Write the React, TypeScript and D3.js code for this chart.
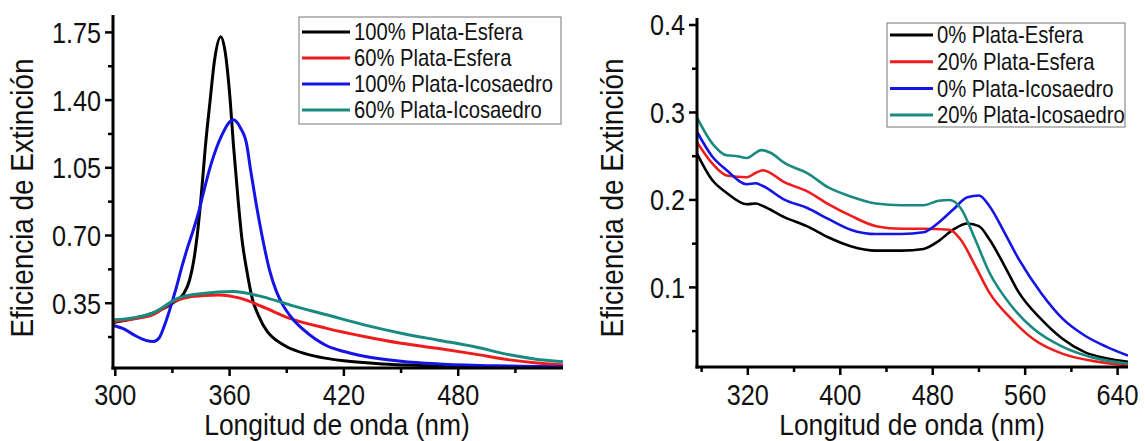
import React from 'react';
import * as d3 from 'd3';

// ---------- Left panel data ----------
const leftXTicks = [300, 360, 420, 480];
const leftXMinor = [330, 390, 450, 510];
const leftYTicks = [0.35, 0.7, 1.05, 1.4, 1.75];
const leftYMinor = [0.175, 0.525, 0.875, 1.225, 1.575];

const esfera100: [number, number][] = [
  [299, 0.25], [310, 0.272], [320, 0.3], [330, 0.35], [336, 0.4], [339, 0.47], [341, 0.56],
  [343, 0.7], [345.5, 0.95], [347.2, 1.15], [349.8, 1.4], [352, 1.6], [355.4, 1.728],
  [357.5, 1.66], [360.3, 1.4], [362, 1.17], [364.5, 0.88], [366.5, 0.68], [369, 0.52],
  [372, 0.37], [375, 0.29], [380, 0.2], [385, 0.155], [390, 0.125], [400, 0.088],
  [410, 0.066], [420, 0.052], [440, 0.036], [460, 0.028], [490, 0.022], [535, 0.019],
];
const esfera60: [number, number][] = [
  [299, 0.255], [310, 0.27], [319.5, 0.29], [331, 0.36], [340, 0.385], [354, 0.393],
  [365.5, 0.376], [377, 0.333], [392, 0.27], [411, 0.22], [430.6, 0.178], [450, 0.143],
  [469, 0.117], [488, 0.088], [507, 0.057], [520, 0.042], [535, 0.031],
];
const icosa100: [number, number][] = [
  [299, 0.235], [305, 0.215], [310, 0.185], [316, 0.158], [320, 0.152], [323, 0.17],
  [326, 0.24], [329, 0.33], [332, 0.43], [335, 0.54], [338, 0.64], [341, 0.73],
  [344, 0.83], [347, 0.95], [350, 1.06], [353, 1.15], [356, 1.22], [359, 1.275],
  [362, 1.298], [365.5, 1.26], [369, 1.17], [371, 1.04], [374, 0.86], [377, 0.7],
  [381, 0.52], [384.6, 0.41], [388, 0.34], [393, 0.27], [398, 0.22], [405, 0.165],
  [411, 0.13], [420, 0.1], [430.6, 0.076], [450, 0.05], [470, 0.036], [500, 0.026],
  [535, 0.02],
];
const icosa60: [number, number][] = [
  [299, 0.264], [310, 0.275], [319.5, 0.298], [333, 0.376], [346, 0.4], [361.7, 0.41],
  [377, 0.384], [392, 0.34], [411, 0.29], [430.6, 0.238], [450, 0.195], [469, 0.16],
  [488, 0.126], [507, 0.083], [520, 0.062], [535, 0.047],
];

// ---------- Right panel data ----------
const rightXTicks = [320, 400, 480, 560, 640];
const rightXMinor = [280, 360, 440, 520, 600];
const rightYTicks = [0.1, 0.2, 0.3, 0.4];
const rightYMinor = [0.05, 0.15, 0.25, 0.35];

const esfera0: [number, number][] = [
  [276, 0.253], [289, 0.223], [301.7, 0.208], [319, 0.195], [327, 0.196], [333, 0.193],
  [352, 0.18], [371, 0.17], [390, 0.157], [409, 0.147], [431, 0.142], [453, 0.142],
  [472, 0.144], [485, 0.153], [497.7, 0.166], [510, 0.173], [520, 0.17], [529, 0.155],
  [542, 0.125], [554.6, 0.094], [573.6, 0.064], [592.6, 0.041], [611.5, 0.026],
  [630, 0.019], [649, 0.015],
];
const esfera20: [number, number][] = [
  [276, 0.266], [289, 0.242], [301.7, 0.228], [319, 0.226], [327, 0.231], [333, 0.234],
  [352, 0.22], [371, 0.21], [390, 0.195], [409, 0.182], [431, 0.17], [453, 0.167],
  [472, 0.167], [494.5, 0.166], [504, 0.155], [516.7, 0.125], [529, 0.094], [548, 0.064],
  [567, 0.041], [592.6, 0.024], [618, 0.016], [649, 0.011],
];
const icosa0: [number, number][] = [
  [276, 0.278], [289, 0.25], [301.7, 0.234], [319, 0.218], [327, 0.219], [333, 0.216],
  [352, 0.2], [371, 0.191], [390, 0.178], [409, 0.166], [431, 0.161], [453, 0.161],
  [472, 0.163], [485, 0.174], [497.7, 0.189], [510, 0.203], [520, 0.205], [529, 0.193],
  [542, 0.163], [554.6, 0.132], [573.6, 0.094], [592.6, 0.064], [611.5, 0.045],
  [630.5, 0.032], [649, 0.022],
];
const icosa20: [number, number][] = [
  [276, 0.294], [289, 0.265], [301.7, 0.251], [311, 0.25], [319, 0.248], [331.7, 0.257],
  [339.6, 0.254], [352, 0.242], [371, 0.231], [390, 0.214], [409, 0.204], [431, 0.196],
  [453, 0.194], [472, 0.194], [485, 0.199], [494.5, 0.2], [504, 0.191], [516.7, 0.155],
  [529, 0.117], [548, 0.079], [567, 0.053], [592.6, 0.032], [618, 0.02], [649, 0.013],
];

const leftLabels = ['100% Plata-Esfera', '60% Plata-Esfera', '100% Plata-Icosaedro', '60% Plata-Icosaedro'];
const rightLabels = ['0% Plata-Esfera', '20% Plata-Esfera', '0% Plata-Icosaedro', '20% Plata-Icosaedro'];
const colors = ['#000000', '#ee1c1c', '#1414e6', '#1a8a80'];

const FONT = '"Liberation Sans", Arial, sans-serif';

type TProps = {
  x: number;
  y: number;
  size: number;
  sx: number;
  anchor?: 'start' | 'middle' | 'end';
  rotate?: number;
  dy?: string;
  children: React.ReactNode;
};
function T({ x, y, size, sx, anchor = 'start', rotate = 0, dy, children }: TProps) {
  return (
    <text
      transform={`translate(${x},${y}) rotate(${rotate}) scale(${sx},1)`}
      textAnchor={anchor}
      dy={dy}
      fontSize={size}
      fontFamily={FONT}
      fill="#111"
    >
      {children}
    </text>
  );
}

type PanelProps = {
  xDomain: [number, number];
  xRange: [number, number];
  yDomain: [number, number];
  yRange: [number, number];
  xTicks: number[];
  xMinor: number[];
  yTicks: number[];
  yMinor: number[];
  yFmt: (v: number) => string;
  series: [number, number][][];
  labels: string[];
  lineWidth: number;
  legend: { x: number; y: number; w: number; h: number; y0: number; dy: number; lineLen: number };
  yTitleX: number;
  xTitleX: number;
};

function Panel(p: PanelProps) {
  const x = d3.scaleLinear().domain(p.xDomain).range(p.xRange);
  const y = d3.scaleLinear().domain(p.yDomain).range(p.yRange);
  const line = d3
    .line<[number, number]>()
    .x((d) => x(d[0]))
    .y((d) => y(d[1]))
    .curve(d3.curveMonotoneX);
  const x0 = p.xRange[0];
  const x1 = p.xRange[1];
  const yb = p.yRange[0];
  const yt = p.yRange[1];
  const L = p.legend;
  return (
    <g>
      <defs>
        <clipPath id={`clip${x0}`}>
          <rect x={x0} y={yt} width={x1 - x0} height={yb - yt} />
        </clipPath>
      </defs>
      <g clipPath={`url(#clip${x0})`}>
        {p.series.map((s, i) => (
          <path key={i} d={line(s) || ''} fill="none" stroke={colors[i]} strokeWidth={p.lineWidth} strokeLinejoin="round" />
        ))}
      </g>
      <line x1={x0} y1={yt} x2={x0} y2={yb + 1.5} stroke="#000" strokeWidth={3} />
      <line x1={x0 - 1.5} y1={yb} x2={x1} y2={yb} stroke="#000" strokeWidth={3} />
      {p.xTicks.map((t) => (
        <g key={`xt${t}`}>
          <line x1={x(t)} x2={x(t)} y1={yb} y2={yb + 8} stroke="#000" strokeWidth={2.5} />
          <T x={x(t)} y={405} size={29} sx={0.87} anchor="middle">
            {t}
          </T>
        </g>
      ))}
      {p.xMinor.map((t) => (
        <line key={`xm${t}`} x1={x(t)} x2={x(t)} y1={yb} y2={yb + 5} stroke="#000" strokeWidth={2.5} />
      ))}
      {p.yTicks.map((t) => (
        <g key={`yt${t}`}>
          <line x1={x0 - 8} x2={x0} y1={y(t)} y2={y(t)} stroke="#000" strokeWidth={2.5} />
          <T x={x0 - 12} y={y(t)} dy="0.36em" size={29} sx={0.87} anchor="end">
            {p.yFmt(t)}
          </T>
        </g>
      ))}
      {p.yMinor.map((t) => (
        <line key={`ym${t}`} x1={x0 - 5} x2={x0} y1={y(t)} y2={y(t)} stroke="#000" strokeWidth={2.5} />
      ))}
      <T x={p.yTitleX} y={198} rotate={-90} dy="0.36em" size={31} sx={0.9} anchor="middle">
        Eficiencia de Extinción
      </T>
      <T x={p.xTitleX} y={435} size={30} sx={0.88} anchor="middle">
        Longitud de onda (nm)
      </T>
      <rect x={L.x} y={L.y} width={L.w} height={L.h} fill="#fff" stroke="#777" strokeWidth={1} />
      {p.labels.map((lab, i) => (
        <g key={lab}>
          <line
            x1={L.x + 3}
            x2={L.x + 3 + L.lineLen}
            y1={L.y0 + i * L.dy}
            y2={L.y0 + i * L.dy}
            stroke={colors[i]}
            strokeWidth={3}
          />
          <T x={L.x + 3 + L.lineLen + 4} y={L.y0 + i * L.dy} dy="0.36em" size={23} sx={0.88}>
            {lab}
          </T>
        </g>
      ))}
    </g>
  );
}

export default function App() {
  return (
    <svg
      width={1145}
      height={441}
      viewBox="0 0 1145 441"
      style={{ position: 'absolute', left: 0, top: 0, background: '#fff' }}
    >
      <rect width={1145} height={441} fill="#fff" />
      <Panel
        xDomain={[298.8, 535]}
        xRange={[113, 563]}
        yDomain={[0.015, 1.84]}
        yRange={[368, 15]}
        xTicks={leftXTicks}
        xMinor={leftXMinor}
        yTicks={leftYTicks}
        yMinor={leftYMinor}
        yFmt={(v) => v.toFixed(2)}
        series={[esfera100, esfera60, icosa100, icosa60]}
        labels={leftLabels}
        lineWidth={3}
        legend={{ x: 299, y: 17, w: 262, h: 107, y0: 32, dy: 26, lineLen: 48 }}
        yTitleX={22}
        xTitleX={337}
      />
      <Panel
        xDomain={[276, 649]}
        xRange={[697, 1128]}
        yDomain={[0.009, 0.408]}
        yRange={[367, 18]}
        xTicks={rightXTicks}
        xMinor={rightXMinor}
        yTicks={rightYTicks}
        yMinor={rightYMinor}
        yFmt={(v) => v.toFixed(1)}
        series={[esfera0, esfera20, icosa0, icosa20]}
        labels={rightLabels}
        lineWidth={2.6}
        legend={{ x: 887, y: 23, w: 238, h: 104, y0: 35, dy: 26.7, lineLen: 43 }}
        yTitleX={612}
        xTitleX={912}
      />
    </svg>
  );
}
